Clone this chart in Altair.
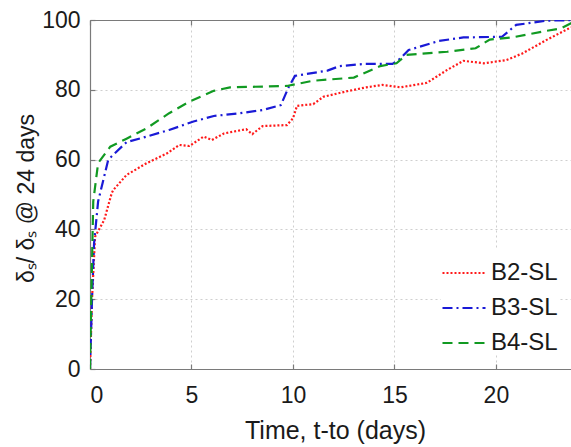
import altair as alt
import pandas as pd

# ---- data ----
b2_t = [0, 0.1, 0.25, 0.7, 1.07, 1.15, 1.8, 2.8, 3.8, 4.4, 4.9, 5.6, 6.0, 6.6, 7.7, 8.0, 8.5, 9.7,
        10.0, 10.2, 11.0, 11.5, 12.6, 13.6, 14.4, 15.3, 16.6, 17.6, 18.4, 19.4, 20.5, 21.3, 22.5, 23.6, 24]
b2_v = [0, 20, 37.9, 42.7, 50.4, 51.3, 55.6, 59, 61.8, 64.2, 63.9, 66.6, 65.6, 67.5, 68.7, 67.3, 69.6, 69.9,
        71.8, 75.4, 75.9, 78, 79.5, 80.7, 81.4, 80.7, 82, 85.7, 88.3, 87.6, 88.5, 90.4, 94.3, 97.6, 98.5]

b3_t = [0, 0.1, 0.2, 0.4, 0.9, 1.8, 2.8, 3.9, 5.1, 6.1, 7.4, 8.5, 9.4, 9.8, 10.1, 11.7, 12.3, 13.5,
        14.9, 15.3, 15.7, 17.2, 18.4, 20.3, 21.0, 22.5, 24]
b3_v = [0, 20, 36, 48, 60, 65, 66.6, 68.5, 70.9, 72.5, 73.3, 74.2, 75.6, 80.9, 84, 85.5, 86.8, 87.4,
        87.4, 89, 91.4, 94, 95, 95.2, 98.6, 99.8, 100]

b4_t = [0, 0.08, 0.16, 0.4, 1.0, 1.8, 2.8, 3.9, 4.9, 6.1, 6.9, 9.7, 11.0, 13.0, 14.3, 15.1, 15.6,
        17.6, 19.0, 19.7, 20.8, 22.5, 23.2, 24]
b4_v = [0, 25, 48, 59, 63.7, 66, 69, 73.3, 76.6, 79.7, 80.7, 81.1, 82.6, 83.5, 86.8, 87.6, 90,
        90.9, 91.9, 94.4, 95, 96.9, 97.6, 100]

series_names = ["B2-SL", "B3-SL", "B4-SL"]
series_colors = ["#ff1a1a", "#1a1ad6", "#119a22"]
series_dash = [[2, 2], [10, 4, 2, 4], [10, 6]]

x_ticks = [0, 5, 10, 15, 20]
y_ticks = [0, 20, 40, 60, 80, 100]

rows = []
for name, ts, vs in [("B2-SL", b2_t, b2_v), ("B3-SL", b3_t, b3_v), ("B4-SL", b4_t, b4_v)]:
    for i, (t, v) in enumerate(zip(ts, vs)):
        rows.append({"series": name, "t": t, "v": v, "order": i})
df = pd.DataFrame(rows)

W, H = 481, 349
FONT = "Liberation Sans"
FRAME = "#7a7a7a"

xscale = alt.Scale(domain=[0, 23.7], nice=False, zero=False)
yscale = alt.Scale(domain=[0, 100], nice=False)

main_x_axis = alt.Axis(
    values=x_ticks, format="d", ticks=False, labelPadding=15, labelFontSize=23,
    labelFont=FONT, labelColor="#1a1a1a", domainColor=FRAME, domainWidth=1.2,
    grid=True, gridColor="#cfcfcf", gridDash=[2, 3], gridWidth=1,
    title="Time, t-to (days)", titleFont=FONT, titleFontSize=25, titleFontWeight="normal",
    titleColor="#1a1a1a", titleX=245, titleY=69, titleBaseline="alphabetic", titleAnchor="start",
    titleAlign="center",
)
main_y_axis = alt.Axis(
    values=y_ticks, format="d", ticks=False, labelPadding=10, labelFontSize=23,
    labelFont=FONT, labelColor="#1a1a1a", domainColor=FRAME, domainWidth=1.2,
    grid=True, gridColor="#cfcfcf", gridDash=[2, 3], gridWidth=1,
    title="δₛ/ δₛ @ 24 days", titleFont=FONT, titleFontSize=23, titleFontWeight="normal",
    titleColor="#1a1a1a", titleX=-64, titleY=198 - 20, titleAngle=270, titleBaseline="middle",
    titleAlign="center",
)

lines = alt.Chart(df).mark_line(strokeWidth=2.2, clip=True).encode(
    x=alt.X("t:Q", scale=xscale, axis=main_x_axis),
    y=alt.Y("v:Q", scale=yscale, axis=main_y_axis),
    color=alt.Color("series:N", scale=alt.Scale(domain=series_names, range=series_colors),
                    legend=alt.Legend(
                        title=None, orient="none", legendX=351, legendY=230,
                        symbolType="stroke", symbolSize=1850, symbolStrokeWidth=2.2,
                        labelFont=FONT, labelFontSize=24, labelColor="#1a1a1a",
                        labelOffset=4, rowPadding=0, padding=0, fillColor="white",
                    )),
    strokeDash=alt.StrokeDash("series:N", scale=alt.Scale(domain=series_names, range=series_dash),
                              legend=None),
    order="order:Q",
)

# inward ticks: top edge (frame line + ticks pointing down) and left edge (ticks pointing right)
top_frame = alt.Chart(df).mark_point(opacity=0, size=0).encode(
    x=alt.X("t:Q", scale=xscale, axis=alt.Axis(
        orient="bottom", offset=-H, values=x_ticks, labels=False, title=None, grid=False,
        domainColor=FRAME, domainWidth=1.2, tickColor=FRAME, tickSize=5, tickWidth=1.2)),
    y=alt.Y("v:Q", scale=yscale, axis=alt.Axis(
        orient="right", offset=-W, values=y_ticks, labels=False, title=None, grid=False,
        domain=False, tickColor=FRAME, tickSize=5, tickWidth=1.2)),
)
# bottom edge ticks pointing up
bottom_ticks = alt.Chart(df).mark_point(opacity=0, size=0).encode(
    x=alt.X("t:Q", scale=xscale, axis=alt.Axis(
        orient="top", offset=-H, values=x_ticks, labels=False, title=None, grid=False,
        domain=False, tickColor=FRAME, tickSize=5, tickWidth=1.2)),
    y=alt.Y("v:Q", scale=yscale, axis=None),
)

chart = alt.layer(lines, top_frame, bottom_ticks).resolve_axis(
    x="independent", y="independent"
).properties(
    width=W, height=H,
    autosize=alt.AutoSizeParams(type="none"),
    padding={"left": 90, "top": 20, "right": 0, "bottom": 78},
    background="white",
).configure_view(stroke=None)

chart.save("out.html", embed_options={"renderer": "svg", "actions": False})
